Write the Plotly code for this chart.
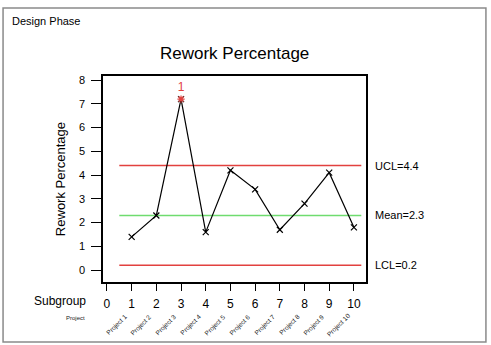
import plotly.graph_objects as go

subgroups = [1, 2, 3, 4, 5, 6, 7, 8, 9, 10]
rework = [1.4, 2.3, 7.2, 1.6, 4.2, 3.4, 1.7, 2.8, 4.1, 1.8]
projects = ["Project 1", "Project 2", "Project 3", "Project 4", "Project 5",
            "Project 6", "Project 7", "Project 8", "Project 9", "Project 10"]
ucl, mean, lcl = 4.4, 2.3, 0.2
out_idx = [2]  # out-of-control point (subgroup 3)
x_ticks = [0, 1, 2, 3, 4, 5, 6, 7, 8, 9, 10]
y_ticks = [0, 1, 2, 3, 4, 5, 6, 7, 8]

FONT = "Liberation Sans, Arial, sans-serif"
RED = "#e2413f"
GREEN = "#6fdc6f"

fig = go.Figure()
line_x = [0.5, 10.3]
fig.add_trace(go.Scatter(x=line_x, y=[ucl, ucl], mode="lines", line=dict(color=RED, width=1.5), hoverinfo="skip"))
fig.add_trace(go.Scatter(x=line_x, y=[lcl, lcl], mode="lines", line=dict(color=RED, width=1.5), hoverinfo="skip"))
fig.add_trace(go.Scatter(x=line_x, y=[mean, mean], mode="lines", line=dict(color=GREEN, width=1.5), hoverinfo="skip"))
fig.add_trace(go.Scatter(x=subgroups, y=rework, mode="lines+markers",
                         line=dict(color="black", width=1.2),
                         marker=dict(symbol="x-thin", size=6, line=dict(color="black", width=1.2))))
fig.add_trace(go.Scatter(x=[subgroups[i] for i in out_idx], y=[rework[i] for i in out_idx],
                         mode="markers+text", text=["1"], textposition="top center",
                         textfont=dict(color=RED, size=12, family=FONT),
                         marker=dict(symbol="asterisk", size=6, line=dict(color=RED, width=1.2))))

ann = []
ann.append(dict(text="Design Phase", x=-0.354, y=1.267, xref="paper", yref="paper",
                xanchor="left", yanchor="middle", showarrow=False, font=dict(size=11, color="black", family=FONT)))
ann.append(dict(text="Rework Percentage", x=0.5, y=1.11, xref="paper", yref="paper",
                xanchor="center", yanchor="middle", showarrow=False, font=dict(size=17, color="black", family=FONT)))
ann.append(dict(text="Rework Percentage", x=-0.163, y=0.5, xref="paper", yref="paper", textangle=-90,
                xanchor="center", yanchor="middle", showarrow=False, font=dict(size=13, color="black", family=FONT)))
ann.append(dict(text="Subgroup", x=-0.057, y=-0.09, xref="paper", yref="paper",
                xanchor="right", yanchor="middle", showarrow=False, font=dict(size=12, color="black", family=FONT)))
ann.append(dict(text="Project", x=-0.06, y=-0.175, xref="paper", yref="paper",
                xanchor="right", yanchor="middle", showarrow=False, font=dict(size=6, color="#222222", family=FONT)))
for lbl, val in [("UCL", ucl), ("Mean", mean), ("LCL", lcl)]:
    ann.append(dict(text=f"{lbl}={val}", x=1.027, y=val, xref="paper", yref="y",
                    xanchor="left", yanchor="middle", showarrow=False, font=dict(size=11, color="black", family=FONT)))
for sg, p in zip(subgroups, projects):
    ann.append(dict(text=p, x=sg, y=-0.209, xref="x", yref="paper", textangle=-45, xshift=-15,
                    xanchor="center", yanchor="middle", showarrow=False, font=dict(size=6.5, color="#222222", family=FONT)))

shapes = [dict(type="rect", xref="paper", yref="paper", x0=-0.380, x1=1.456, y0=-0.291, y1=1.330,
               line=dict(color="#8a8a8a", width=1.5), fillcolor="rgba(0,0,0,0)", layer="below")]

fig.update_layout(
    width=491, height=345,
    margin=dict(l=103, r=125, t=76, b=63),
    paper_bgcolor="white", plot_bgcolor="white",
    showlegend=False,
    annotations=ann, shapes=shapes,
    font=dict(family=FONT, color="black"),
    xaxis=dict(range=[-0.16, 10.49], tickvals=x_ticks, ticks="outside", ticklen=7, tickwidth=1.2,
               tickcolor="black", showline=True, linecolor="black", linewidth=1.5, mirror=True,
               showgrid=False, zeroline=False, tickfont=dict(size=12, family=FONT), ticklabelstandoff=3),
    yaxis=dict(range=[-0.5, 8.17], tickvals=y_ticks, ticks="outside", ticklen=10, tickwidth=1.2,
               tickcolor="black", showline=True, linecolor="black", linewidth=1.5, mirror=True,
               showgrid=False, zeroline=False, tickfont=dict(size=11, family=FONT), ticklabelstandoff=4),
)

fig.write_html("out.html")
